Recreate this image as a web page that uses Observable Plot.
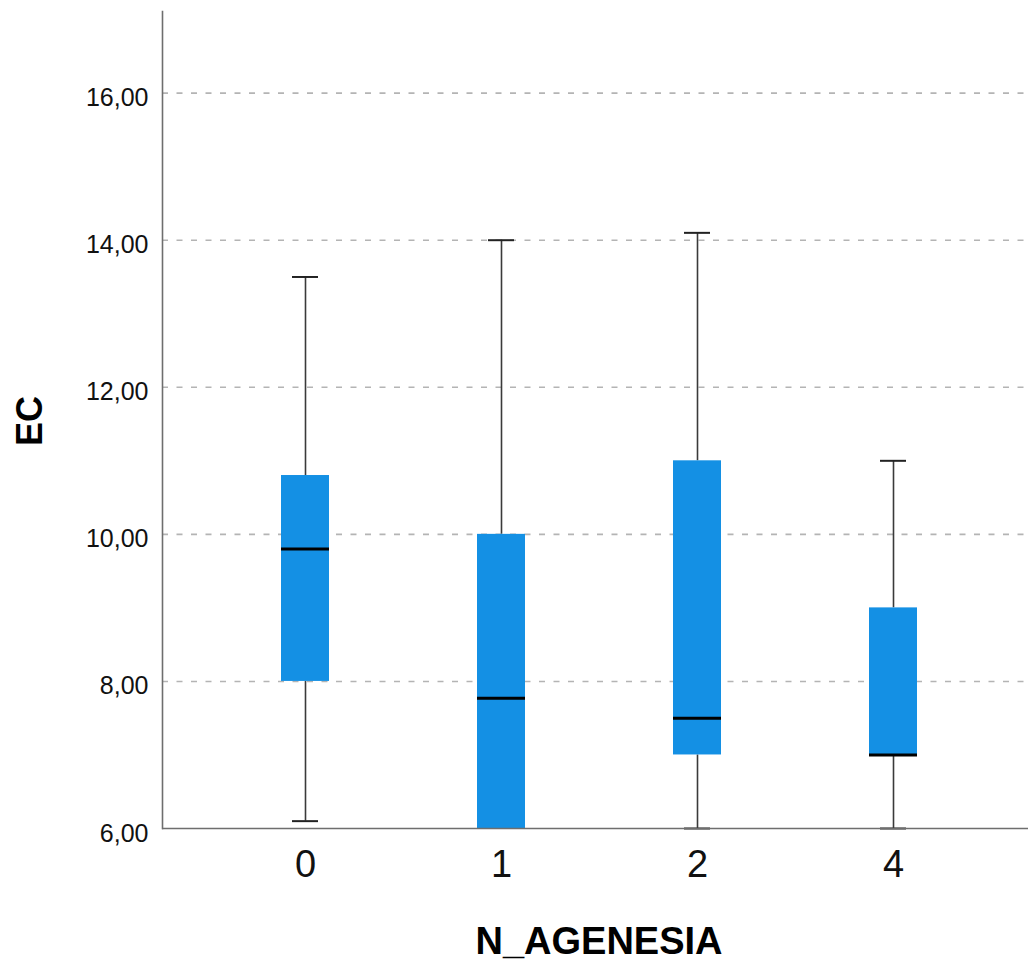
<!DOCTYPE html>
<html>
<head>
<meta charset="utf-8">
<script src="https://cdn.jsdelivr.net/npm/d3@7"></script>
<script src="https://cdn.jsdelivr.net/npm/@observablehq/plot@0.6"></script>
<style>
  html, body { margin: 0; padding: 0; background: #fff; }
  #chart { width: 1028px; height: 967px; }
  svg { font-family: "Liberation Sans", Arial, sans-serif; }
</style>
</head>
<body>
<div id="chart"></div>
<script>
// Data
const categories = ["0", "1", "2", "4"];
const whiskerLow  = [6.1, 6.0, 6.0, 6.0];
const q1          = [8.0, 6.0, 7.0, 7.0];
const median      = [9.8, 7.77, 7.5, 7.0];
const q3          = [10.8, 10.0, 11.0, 9.0];
const whiskerHigh = [13.5, 14.0, 14.1, 11.0];
const yTicks = [6, 8, 10, 12, 14, 16];
const xLabel = "N_AGENESIA";
const yLabel = "EC";

const rows = categories.map((c, i) => ({
  cat: c, lo: whiskerLow[i], q1: q1[i], med: median[i], q3: q3[i], hi: whiskerHigh[i]
}));
const caps = rows.flatMap(r => r.cat === "1" ? [{cat: r.cat, v: r.hi}] : [{cat: r.cat, v: r.lo}, {cat: r.cat, v: r.hi}]);
const fmt = d => d.toFixed(2).replace(".", ",");

const chart = Plot.plot({
  width: 1028,
  height: 967,
  marginLeft: 162,
  marginRight: 0,
  marginTop: 11,
  marginBottom: 139,
  style: {fontFamily: '"Liberation Sans", Arial, sans-serif', background: "#fff"},
  x: {type: "band", domain: categories, range: [207, 992], paddingInner: 0.755, paddingOuter: 0.3775},
  y: {domain: [6, 17.11], ticks: yTicks},
  marks: [
    // dashed grid
    Plot.ruleY(yTicks.filter(t => t > 6), {stroke: "#b4b4b4", strokeWidth: 1.6, strokeDasharray: "6,8.5"}),
    // whiskers
    Plot.ruleX(rows, {x: "cat", y1: "q3", y2: "hi", stroke: "#3a3a3a", strokeWidth: 1.6}),
    Plot.ruleX(rows.filter(r => r.lo < r.q1), {x: "cat", y1: "lo", y2: "q1", stroke: "#3a3a3a", strokeWidth: 1.6}),
    Plot.tickY(caps, {x: "cat", y: "v", stroke: "#222", strokeWidth: 2, insetLeft: 11, insetRight: 11}),
    // boxes
    Plot.barY(rows, {x: "cat", y1: "q1", y2: "q3", fill: "#1490e4"}),
    // medians
    Plot.tickY(rows, {x: "cat", y: "med", stroke: "#000", strokeWidth: 3}),
    // axes lines
    Plot.ruleY([6], {stroke: "#6e6e6e", strokeWidth: 1.6}),
    Plot.ruleX([0], {x: () => null, frameAnchor: "left", stroke: "#6e6e6e", strokeWidth: 1.6}),
    Plot.axisY({ticks: yTicks, tickFormat: fmt, tickSize: 0, tickPadding: 14, fontSize: 25, dy: 5, label: null, fill: "#111"}),
    Plot.axisX({tickSize: 0, tickPadding: 22, fontSize: 38, label: null, fill: "#111"}),
    Plot.frame({anchor: "left", stroke: "#6e6e6e", strokeWidth: 1.6})
  ]
});

// axis titles
const ns = "http://www.w3.org/2000/svg";
const t1 = document.createElementNS(ns, "text");
t1.setAttribute("x", 599); t1.setAttribute("y", 954);
t1.setAttribute("text-anchor", "middle");
t1.setAttribute("font-size", 38); t1.setAttribute("font-weight", "bold");
t1.setAttribute("fill", "#000");
t1.textContent = xLabel;
chart.appendChild(t1);
const t2 = document.createElementNS(ns, "text");
t2.setAttribute("transform", "translate(42,421) rotate(-90)");
t2.setAttribute("text-anchor", "middle");
t2.setAttribute("font-size", 36); t2.setAttribute("font-weight", "bold");
t2.setAttribute("fill", "#000");
t2.textContent = yLabel;
chart.appendChild(t2);

document.getElementById("chart").appendChild(chart);
</script>
</body>
</html>
